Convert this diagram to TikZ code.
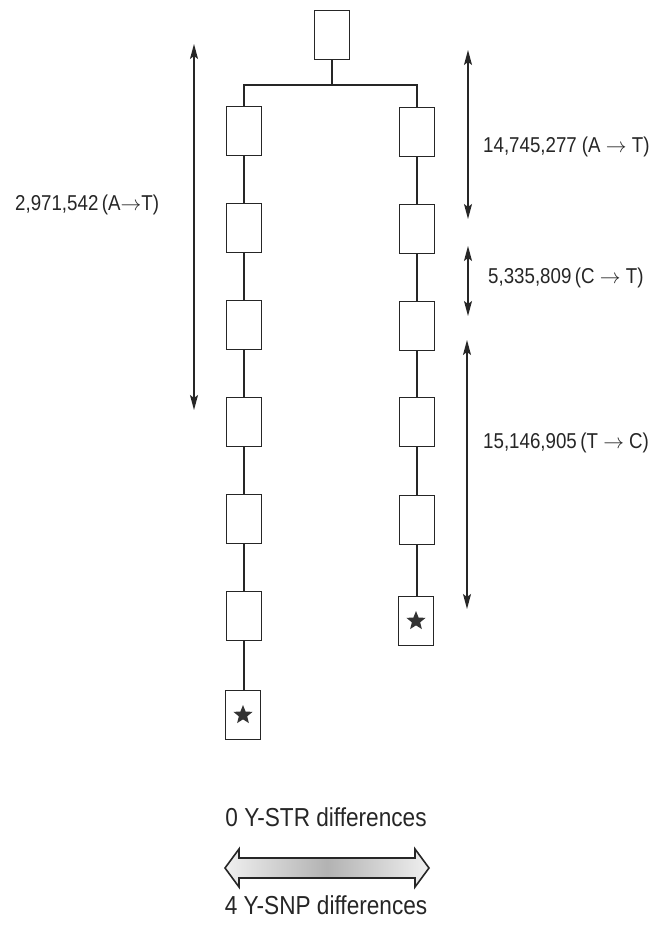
\documentclass[tikz,border=0pt]{standalone}
\usepackage{fontspec}
\setmainfont{Liberation Sans}[FakeStretch=0.87]
\usetikzlibrary{arrows.meta,shapes.geometric}
\begin{document}
\begin{tikzpicture}[x=1pt,y=-1pt,
  box/.style={draw=black!85, line width=1.8pt, minimum width=35pt, minimum height=49pt, inner sep=0pt},
  link/.style={line width=1.6pt, draw=black!85},
  dim/.style={line width=1.3pt, draw=black!85, {Stealth[length=15pt,width=8pt,inset=3pt]}-{Stealth[length=15pt,width=8pt,inset=3pt]}},
  lab/.style={font=\fontsize{21.5}{24}\selectfont, anchor=west, inner sep=0pt, text=black!85},
  biglab/.style={font=\fontsize{26}{28}\selectfont, inner sep=0pt, text=black!85},
  starmark/.style={star, star points=5, star point ratio=2.3, fill=black!80, draw=none, minimum size=20pt, inner sep=0pt},
  bigarrow/.style={draw=black!85, line width=1.6pt, left color=gray!12, right color=gray!12, middle color=gray!60}]
\useasboundingbox[fill=white] (0,0) rectangle (652,928);

% top box
\node[box] (top) at (332,35) {};
\coordinate (j) at (332,85);

% left column
\node[box] (L1) at (244,131) {};
\node[box] (L2) at (244,228) {};
\node[box] (L3) at (244,325) {};
\node[box] (L4) at (244,422) {};
\node[box] (L5) at (244,519) {};
\node[box] (L6) at (244,616) {};
\node[box] (L7) at (243,715) {};
\node[starmark] (s1) at (L7.center) {};

% right column
\node[box] (R1) at (417,132) {};
\node[box] (R2) at (417,229) {};
\node[box] (R3) at (417,326) {};
\node[box] (R4) at (417,422) {};
\node[box] (R5) at (417,520) {};
\node[box] (R6) at (416,621) {};
\node[starmark] (s2) at (R6.center) {};

% connectors
\draw[link] (top.south) -- (j);
\draw[link] (L1.north) |- (j) -| (R1.north);
\draw[link] (L1) -- (L2);
\draw[link] (L2) -- (L3);
\draw[link] (L3) -- (L4);
\draw[link] (L4) -- (L5);
\draw[link] (L5) -- (L6);
\draw[link] (L6.south) -- (L6.south |- L7.north);
\draw[link] (R1) -- (R2);
\draw[link] (R2) -- (R3);
\draw[link] (R3) -- (R4);
\draw[link] (R4) -- (R5);
\draw[link] (R5.south) -- (R5.south |- R6.north);

% dimension arrows
\coordinate (la1) at (194,44);
\coordinate (la2) at (194,410);
\coordinate (ra1) at (468,50);
\coordinate (ra2) at (468,219);
\coordinate (rb1) at (468,246);
\coordinate (rb2) at (468,316);
\coordinate (rc1) at (467,340);
\coordinate (rc2) at (467,609);
\draw[dim] (la1) -- (la2);
\draw[dim] (ra1) -- (ra2);
\draw[dim] (rb1) -- (rb2);
\draw[dim] (rc1) -- (rc2);

\node[lab] (tl) at (15,205) {2,971,542\,(A$\rightarrow$T)};
\node[lab] (t1) at (483,147) {14,745,277 (A $\rightarrow$ T)};
\node[lab] (t2) at (488,278) {5,335,809\,(C $\rightarrow$ T)};
\node[lab] (t3) at (483,443) {15,146,905\,(T $\rightarrow$ C)};

% bottom
\node[biglab] (str) at (326,817) {0 Y-STR differences};
\draw[bigarrow] (225,868) -- (239,849) -- (239,858) -- (415,858) -- (415,849)
  -- (429,868) -- (415,887) -- (415,878) -- (239,878) -- (239,887) -- cycle;
\node[biglab] (snp) at (326,905) {4 Y-SNP differences};
\end{tikzpicture}
\end{document}
